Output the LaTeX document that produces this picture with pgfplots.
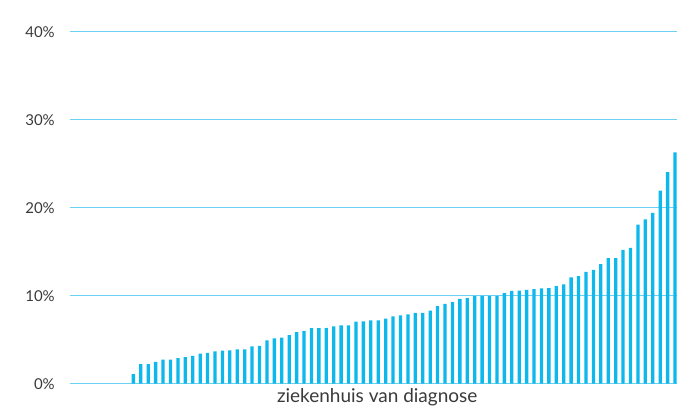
\documentclass[border=0pt]{standalone}
\usepackage{pgfplots}
\pgfplotsset{compat=1.18}
\usepackage{fontspec}
\setmainfont{Lato}
\definecolor{barblue}{HTML}{0DB9EC}
\definecolor{txt}{HTML}{3A3A3A}

\pgfplotstableread{
x y
1 1.10
2 2.24
3 2.24
4 2.47
5 2.73
6 2.73
7 2.92
8 3.03
9 3.18
10 3.41
11 3.52
12 3.67
13 3.75
14 3.78
15 3.90
16 3.90
17 4.26
18 4.30
19 4.92
20 5.15
21 5.23
22 5.53
23 5.87
24 6.02
25 6.33
26 6.33
27 6.33
28 6.51
29 6.63
30 6.63
31 7.05
32 7.08
33 7.20
34 7.20
35 7.40
36 7.65
37 7.77
38 7.88
39 8.07
40 8.07
41 8.30
42 8.83
43 9.09
44 9.28
45 9.66
46 9.74
47 10.00
48 10.00
49 10.00
50 10.00
51 10.30
52 10.57
53 10.60
54 10.68
55 10.76
56 10.83
57 10.87
58 11.10
59 11.29
60 12.08
61 12.24
62 12.73
63 12.95
64 13.60
65 14.28
66 14.28
67 15.23
68 15.45
69 18.10
70 18.70
71 19.43
72 21.97
73 24.05
74 26.30
}\datatable

\begin{document}
\begin{tikzpicture}
\begin{axis}[
  scale only axis,
  width=607pt, height=352pt,
  xmin=-7.55, xmax=74.2,
  ymin=0, ymax=40,
  axis line style={draw=none},
  xtick=\empty,
  ytick={0,10,20,30,40},
  yticklabels={0\%,10\%,20\%,30\%,40\%},
  major tick length=0pt,
  yticklabel style={font=\fontsize{15}{17}\selectfont, text=txt, anchor=east, inner sep=0pt, xshift=-15pt},
  xlabel={ziekenhuis van diagnose},
  xlabel style={font=\fontsize{19}{21}\selectfont, text=txt, at={(0.5,0)}, anchor=center, yshift=-14pt, xshift=4pt},
  clip=false,
]
\addplot[draw={rgb,255:red,110;green,208;blue,242}, line width=1pt, forget plot] coordinates {(-7.55,0) (74.2,0)};
\addplot[draw={rgb,255:red,110;green,208;blue,242}, line width=1pt, forget plot] coordinates {(-7.55,10) (74.2,10)};
\addplot[draw={rgb,255:red,110;green,208;blue,242}, line width=1pt, forget plot] coordinates {(-7.55,20) (74.2,20)};
\addplot[draw={rgb,255:red,110;green,208;blue,242}, line width=1pt, forget plot] coordinates {(-7.55,30) (74.2,30)};
\addplot[draw={rgb,255:red,110;green,208;blue,242}, line width=1pt, forget plot] coordinates {(-7.55,40) (74.2,40)};
\addplot[ybar, bar width=3.3pt, fill=barblue, draw=none] table[x=x, y=y] {\datatable};
\end{axis}
\path[use as bounding box] (-70pt,-33pt) rectangle (607pt,384pt);
\end{tikzpicture}
\end{document}
